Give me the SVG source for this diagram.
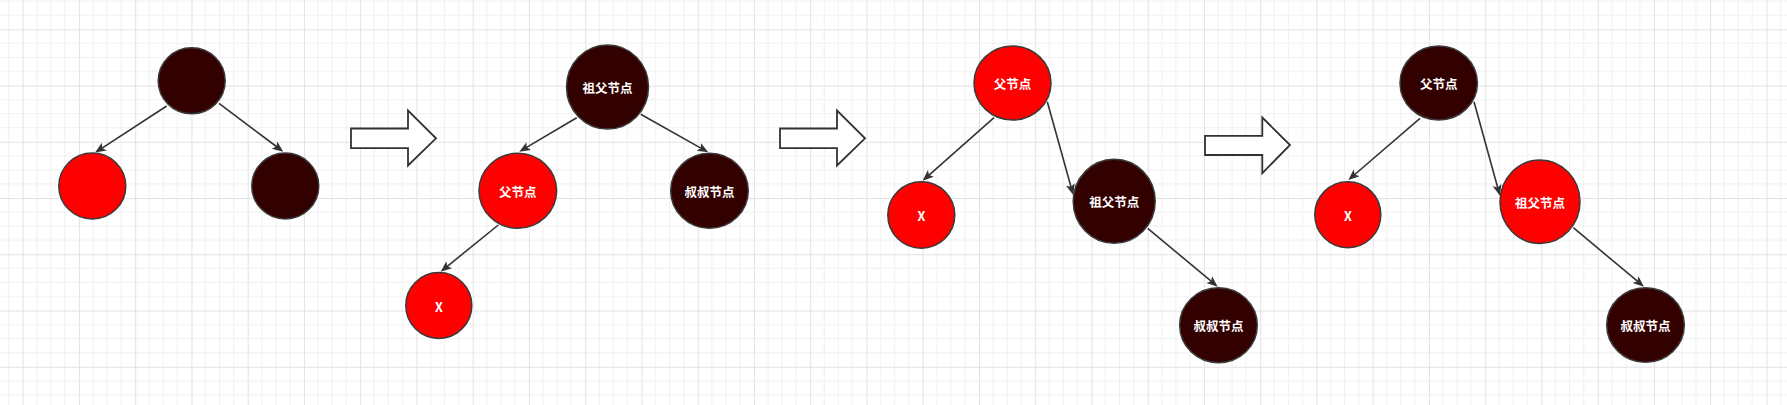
<svg xmlns="http://www.w3.org/2000/svg" width="1787" height="405" viewBox="0 0 1787 405">
<style>
.bk{fill:#330000;stroke:#3a3a3a;stroke-width:1.5}
.rd{fill:#ff0000;stroke:#3a3a3a;stroke-width:1.5}
.lb{fill:#ffffff;font-family:"Noto Sans CJK SC","Noto Sans",sans-serif;font-size:12.5px;font-weight:bold;text-anchor:middle;dominant-baseline:central}
.ed{stroke:#333333;stroke-width:1.6;fill:none;marker-end:url(#ah)}
.big{fill:#ffffff;stroke:#333333;stroke-width:1.8;stroke-linejoin:miter}
</style>
<defs>
<pattern id="grid" x="22.7" y="29.3" width="56.25" height="56.25" patternUnits="userSpaceOnUse">
<path d="M14.06,0V56.25M28.125,0V56.25M42.19,0V56.25M0,14.06H56.25M0,28.125H56.25M0,42.19H56.25" stroke="#f0f0f0" stroke-width="1" fill="none"/>
<path d="M0.5,0V56.25M0,0.5H56.25" stroke="#e2e2e2" stroke-width="1" fill="none"/>
</pattern>
<marker id="ah" markerUnits="userSpaceOnUse" markerWidth="12" markerHeight="10" refX="4" refY="4.5" orient="auto" viewBox="0 0 12 10">
<path d="M0,0 L11,4.5 L0,9 L2.5,4.5 z" fill="#333333"/>
</marker>
</defs>
<rect width="1787" height="405" fill="#ffffff"/>
<rect width="1787" height="405" fill="url(#grid)"/>

<g id="connectors">
<line class="ed" x1="166.7" y1="106" x2="100.9" y2="148.8"/>
<line class="ed" x1="219" y1="103.3" x2="277.7" y2="147.5"/>
<line class="ed" x1="576.7" y1="117.7" x2="525.3" y2="148.1"/>
<line class="ed" x1="640.7" y1="114.3" x2="702.2" y2="148.9"/>
<line class="ed" x1="498.3" y1="225" x2="446.1" y2="267.3"/>
<line class="ed" x1="994" y1="117.7" x2="927.9" y2="176.1"/>
<line class="ed" x1="1047.3" y1="101.7" x2="1071.4" y2="188.3"/>
<line class="ed" x1="1147.7" y1="228.3" x2="1212.3" y2="282.2"/>
<line class="ed" x1="1420" y1="118.3" x2="1353.6" y2="175.5"/>
<line class="ed" x1="1474" y1="101.7" x2="1498.1" y2="189.0"/>
<line class="ed" x1="1573.3" y1="227.7" x2="1638.6" y2="282.2"/>
</g>

<g id="arrow1"><path class="big" d="M351,128.5 H408 V110.5 L436,138.3 L408,165.5 V148.2 H351 Z"/></g>
<g id="arrow2"><path class="big" d="M780,128.5 H837 V110.5 L865,138.3 L837,165.5 V148.2 H780 Z"/></g>
<g id="arrow3"><path class="big" d="M1205,135.8 H1262.3 V117.5 L1290,145 L1262.3,173.2 V155 H1205 Z"/></g>

<g id="t1-root"><ellipse class="bk" cx="191.7" cy="80.8" rx="33.5" ry="33"/></g>
<g id="t1-left"><ellipse class="rd" cx="92.3" cy="186" rx="33.5" ry="33"/></g>
<g id="t1-right"><ellipse class="bk" cx="285.3" cy="186" rx="33.5" ry="33"/></g>

<g id="t2-grandparent"><ellipse class="bk" cx="607.5" cy="87" rx="41" ry="42"/><text class="lb" x="607.5" y="87.5">祖父节点</text></g>
<g id="t2-parent"><ellipse class="rd" cx="517.8" cy="190.8" rx="38.8" ry="37.5"/><text class="lb" x="517.8" y="191.3">父节点</text></g>
<g id="t2-uncle"><ellipse class="bk" cx="709.5" cy="190.8" rx="38.8" ry="37.5"/><text class="lb" x="709.5" y="191.3">叔叔节点</text></g>
<g id="t2-x"><ellipse class="rd" cx="438.8" cy="305.5" rx="33" ry="33"/><text class="lb" x="438.8" y="306">X</text></g>

<g id="t3-parent"><ellipse class="rd" cx="1012.5" cy="83" rx="38.5" ry="37"/><text class="lb" x="1012.5" y="83.5">父节点</text></g>
<g id="t3-x"><ellipse class="rd" cx="921.3" cy="215" rx="33.5" ry="33.3"/><text class="lb" x="921.3" y="215.5">X</text></g>
<g id="t3-grandparent"><ellipse class="bk" cx="1114.2" cy="201.3" rx="41" ry="42"/><text class="lb" x="1114.2" y="201.8">祖父节点</text></g>
<g id="t3-uncle"><ellipse class="bk" cx="1218.5" cy="325.2" rx="38.8" ry="37.5"/><text class="lb" x="1218.5" y="325.7">叔叔节点</text></g>

<g id="t4-parent"><ellipse class="bk" cx="1438.7" cy="83" rx="38.7" ry="37"/><text class="lb" x="1438.7" y="83.5">父节点</text></g>
<g id="t4-x"><ellipse class="rd" cx="1347.8" cy="214.7" rx="33" ry="33"/><text class="lb" x="1347.8" y="215.2">X</text></g>
<g id="t4-grandparent"><ellipse class="rd" cx="1540" cy="201.7" rx="40" ry="41.7"/><text class="lb" x="1540" y="202.2">祖父节点</text></g>
<g id="t4-uncle"><ellipse class="bk" cx="1645.5" cy="325" rx="38.8" ry="37.3"/><text class="lb" x="1645.5" y="325.5">叔叔节点</text></g>
</svg>
